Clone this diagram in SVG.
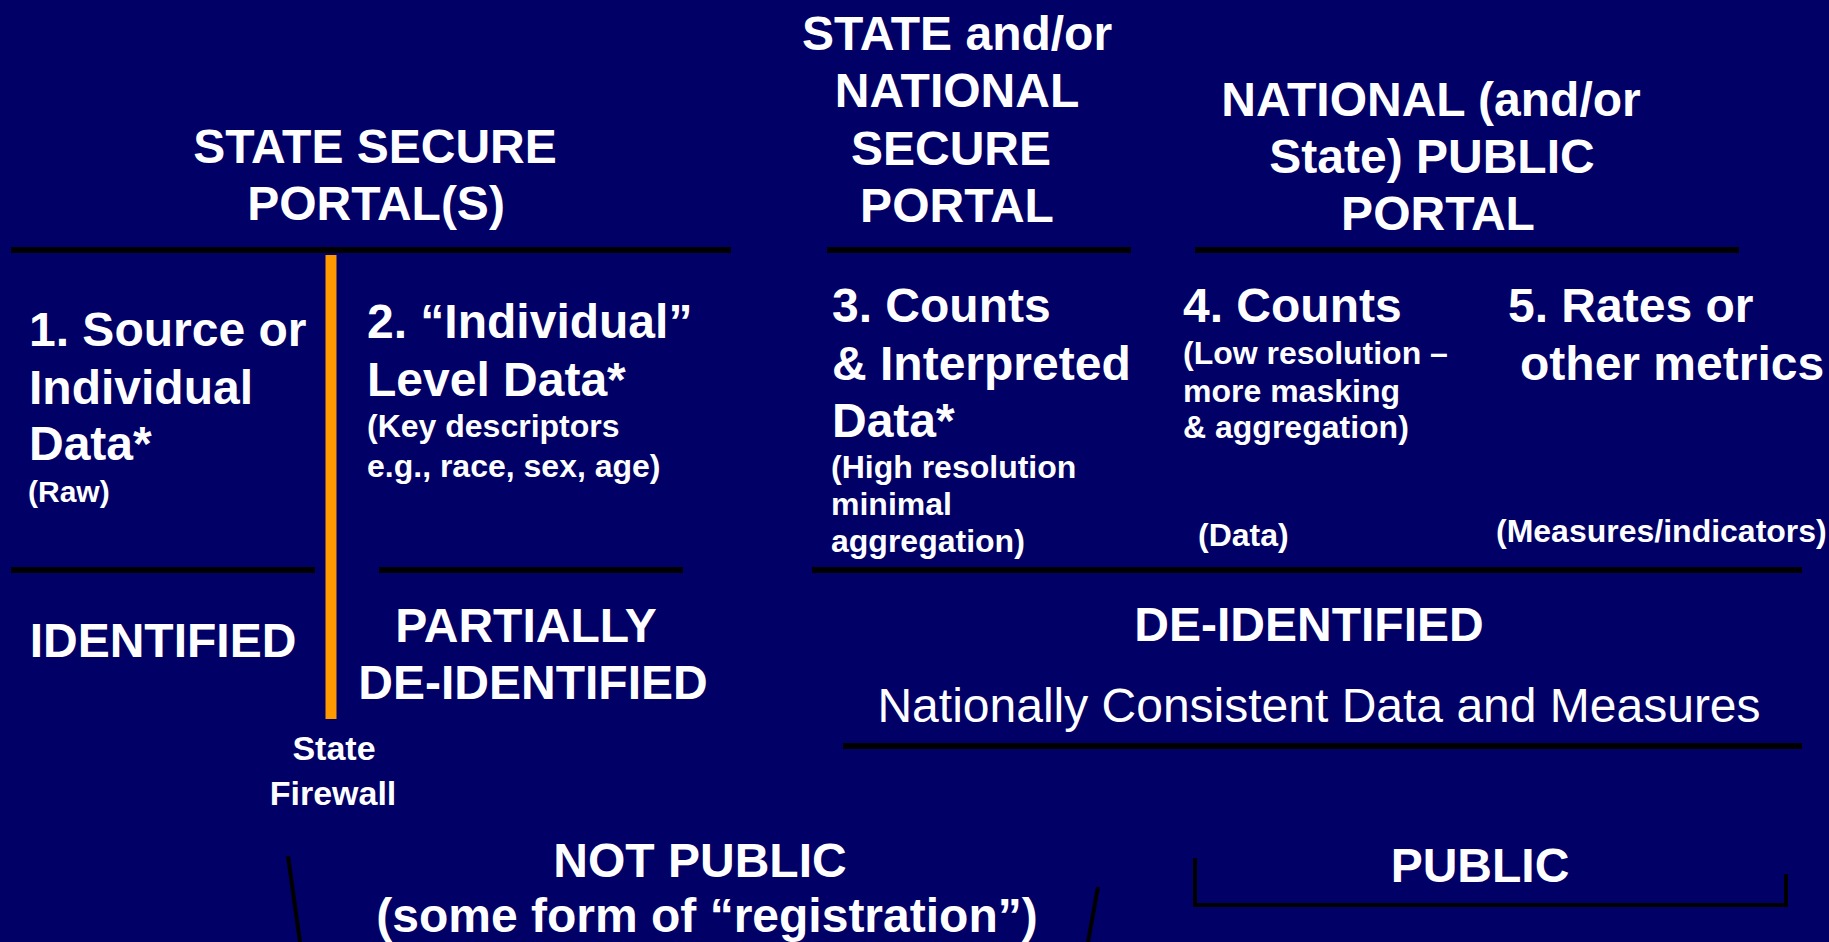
<svg xmlns="http://www.w3.org/2000/svg" width="1829" height="942" viewBox="0 0 1829 942">
<style>
text{font-family:"Liberation Sans",Arial,sans-serif;fill:#fff;font-weight:bold}
.h{font-size:48px}
.s{font-size:32px}
.c{text-anchor:middle}
.n{font-weight:normal}
.bar{stroke:#000;stroke-width:6;fill:none}
.thin{stroke:#000;stroke-width:4;fill:none}
</style>
<rect width="1829" height="942" fill="#000066"/>
<g id="connectors">
<line class="bar" x1="11" y1="250" x2="731" y2="250"/>
<line class="bar" x1="827" y1="250" x2="1131" y2="250"/>
<line class="bar" x1="1195" y1="250" x2="1739" y2="250"/>
<line class="bar" x1="11" y1="570" x2="315" y2="570"/>
<line class="bar" x1="379" y1="570" x2="683" y2="570"/>
<line class="bar" x1="812" y1="570" x2="1802" y2="570"/>
<line class="bar" x1="843" y1="746" x2="1802" y2="746"/>
<line x1="331" y1="255" x2="331" y2="719" stroke="#FF9900" stroke-width="11"/>
<line class="thin" x1="288" y1="856" x2="300" y2="942"/>
<line class="thin" x1="1098" y1="887" x2="1088" y2="942"/>
<polyline class="thin" points="1195,858 1195,905 1786,905 1786,874"/>
</g>
<g id="state-secure-portal">
<text class="h c" x="375" y="163">STATE SECURE</text>
<text class="h c" x="376" y="220">PORTAL(S)</text>
</g>
<g id="national-secure-portal">
<text class="h c" x="957" y="50">STATE and/or</text>
<text class="h c" x="957" y="107">NATIONAL</text>
<text class="h c" x="951" y="165">SECURE</text>
<text class="h c" x="957" y="222">PORTAL</text>
</g>
<g id="public-portal">
<text class="h c" x="1431" y="116">NATIONAL (and/or</text>
<text class="h c" x="1432" y="173">State) PUBLIC</text>
<text class="h c" x="1438" y="230">PORTAL</text>
</g>
<g id="col1">
<text class="h" x="29" y="346">1. Source or</text>
<text class="h" x="29" y="404">Individual</text>
<text class="h" x="29" y="460">Data*</text>
<text class="s" x="28" y="502" style="font-size:30px">(Raw)</text>
</g>
<g id="col2">
<text class="h" x="367" y="338">2. “Individual”</text>
<text class="h" x="367" y="396">Level Data*</text>
<text class="s" x="367" y="437">(Key descriptors</text>
<text class="s" x="367" y="477">e.g., race, sex, age)</text>
</g>
<g id="col3">
<text class="h" x="832" y="322">3. Counts</text>
<text class="h" x="832" y="380">&amp; Interpreted</text>
<text class="h" x="832" y="437">Data*</text>
<text class="s" x="831" y="478">(High resolution</text>
<text class="s" x="831" y="515">minimal</text>
<text class="s" x="831" y="552">aggregation)</text>
</g>
<g id="col4">
<text class="h" x="1183" y="322">4. Counts</text>
<text class="s" x="1183" y="364">(Low resolution –</text>
<text class="s" x="1183" y="402">more masking</text>
<text class="s" x="1183" y="438">&amp; aggregation)</text>
<text class="s" x="1198" y="546">(Data)</text>
</g>
<g id="col5">
<text class="h" x="1508" y="322">5. Rates or</text>
<text class="h" x="1520" y="380">other metrics</text>
<text class="s" x="1496" y="542">(Measures/indicators)</text>
</g>
<g id="identified">
<text class="h c" x="163" y="657">IDENTIFIED</text>
</g>
<g id="partially">
<text class="h c" x="526" y="642">PARTIALLY</text>
<text class="h c" x="533" y="699">DE-IDENTIFIED</text>
</g>
<g id="firewall">
<text class="c" x="334" y="760" style="font-size:34px">State</text>
<text class="c" x="333" y="805" style="font-size:34px">Firewall</text>
</g>
<g id="de-identified">
<text class="h c" x="1309" y="641">DE-IDENTIFIED</text>
<text class="h c n" x="1319" y="722">Nationally Consistent Data and Measures</text>
</g>
<g id="not-public">
<text class="h c" x="700" y="877">NOT PUBLIC</text>
<text class="h c" x="707" y="932">(some form of “registration”)</text>
</g>
<g id="public">
<text class="h c" x="1480" y="882">PUBLIC</text>
</g>
</svg>
